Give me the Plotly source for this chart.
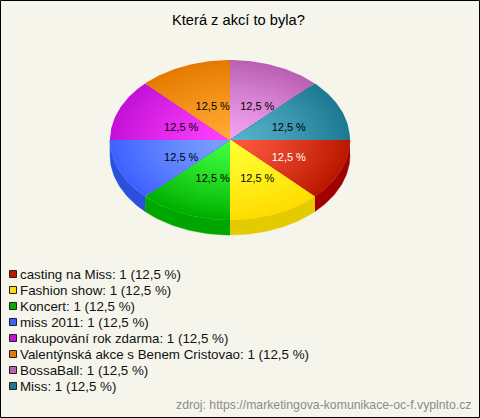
import math
import plotly.graph_objects as go

title = "Která z akcí to byla?"
footer = "zdroj: https://marketingova-komunikace-oc-f.vyplnto.cz"
categories = ["casting na Miss", "Fashion show", "Koncert", "miss 2011",
              "nakupování rok zdarma", "Valentýnská akce s Benem Cristovao",
              "BossaBall", "Miss"]
values = [1, 1, 1, 1, 1, 1, 1, 1]
percent_labels = ["12,5 %"] * 8
outer_colors = ["#bb1800", "#ffdc00", "#00b000", "#3f62ff", "#c412d8", "#e67a00", "#bb60b4", "#1e7a92"]
inner_colors = ["#ff5a40", "#ffff33", "#40ff40", "#7ca2ff", "#ff40ff", "#ffaa33", "#f2a4f2", "#58b2cc"]
side_colors = ["#a00000", "#e3cb00", "#00a600", "#2a50dc", None, None, None, None]
label_colors = ["white", "black", "black", "black", "black", "black", "black", "black"]

W, H = 480, 418
BG = "#f5f5ec"
CX, CY, RX, RY, DEPTH = 230, 140, 120, 80, 15
BANDS = 24


def hex_rgb(c):
    return [int(c[i:i + 2], 16) for i in (1, 3, 5)]


def mix(a, b, t):
    pa, pb = hex_rgb(a), hex_rgb(b)
    return "rgb(%d,%d,%d)" % tuple(round(x + (y - x) * t) for x, y in zip(pa, pb))


total = sum(values)
fig = go.Figure()
start = 0.0
spans = []
for v in values:
    spans.append((start, start + v / total * 2 * math.pi))
    start = spans[-1][1]


def arc(a0, a1, n=40):
    return [a0 + (a1 - a0) * i / n for i in range(n + 1)]


# side wall
for (a0, a1), col in zip(spans, side_colors):
    if col is None:
        continue
    ts = arc(a0, a1)
    xs = [CX + RX * math.cos(t) for t in ts]
    ys = [CY + RY * math.sin(t) for t in ts]
    xs2 = xs[::-1]
    ys2 = [y + DEPTH for y in ys[::-1]]
    fig.add_trace(go.Scatter(x=xs + xs2, y=ys + ys2, fill="toself", fillcolor=col, mode="lines",
                             line=dict(width=0.5, color=col), hoverinfo="skip", showlegend=False))

# top face with radial shading
for (a0, a1), oc, ic, cat in zip(spans, outer_colors, inner_colors, categories):
    ts = arc(a0, a1)
    for b in range(BANDS):
        f = 1 - b / BANDS
        xs = [CX] + [CX + RX * f * math.cos(t) for t in ts] + [CX]
        ys = [CY] + [CY + RY * f * math.sin(t) for t in ts] + [CY]
        fig.add_trace(go.Scatter(x=xs, y=ys, fill="toself", fillcolor=mix(ic, oc, f ** 1.3), mode="lines",
                                 line=dict(width=0), name=cat, hoverinfo="skip", showlegend=False))

# percentage labels
lx, ly = [], []
for a0, a1 in spans:
    m = (a0 + a1) / 2
    lx.append(CX + 5 + 0.485 * RX * math.cos(m))
    ly.append(CY + 3.5 + 0.485 * RY * math.sin(m))
fig.add_trace(go.Scatter(x=lx, y=ly, mode="text", text=percent_labels, hoverinfo="skip", showlegend=False,
                         textposition="middle center",
                         textfont=dict(family="Liberation Sans", size=11, color=label_colors)))

# legend
legend_text = [f"{c}: {v} ({p})" for c, v, p in zip(categories, values, percent_labels)]
ley = [274 + 16 * i for i in range(len(categories))]
fig.add_trace(go.Scatter(x=[13] * 8, y=ley, mode="markers", hoverinfo="skip", showlegend=False,
                         marker=dict(symbol="square", size=7, color=outer_colors,
                                     line=dict(width=1, color="#222222"))))
fig.add_trace(go.Scatter(x=[20] * 8, y=[y + 1.5 for y in ley], mode="text", text=legend_text,
                         textposition="middle right", hoverinfo="skip", showlegend=False,
                         textfont=dict(family="Liberation Sans", size=13.35, color="#111111")))

fig.add_annotation(x=238, y=20, text=title, showarrow=False, xanchor="center", yanchor="middle",
                   font=dict(family="Liberation Sans", size=14.67, color="black"))
fig.add_annotation(x=470, y=405, text=footer, showarrow=False, xanchor="right", yanchor="middle",
                   xshift=3, font=dict(family="Liberation Sans", size=12.25, color="#8c8c8c"))

fig.add_shape(type="rect", x0=0.5, y0=0.5, x1=W - 0.5, y1=H - 0.5, xref="x", yref="y",
              line=dict(color="black", width=1), fillcolor="rgba(0,0,0,0)")

fig.update_xaxes(range=[0, W], visible=False, fixedrange=True)
fig.update_yaxes(range=[H, 0], visible=False, fixedrange=True)
fig.update_layout(width=W, height=H, margin=dict(l=0, r=0, t=0, b=0), autosize=False,
                  paper_bgcolor=BG, plot_bgcolor=BG, showlegend=False)
fig.write_html("out.html", config={"displayModeBar": False},
               post_script="document.body.style.margin='0';document.body.style.overflow='hidden';")
